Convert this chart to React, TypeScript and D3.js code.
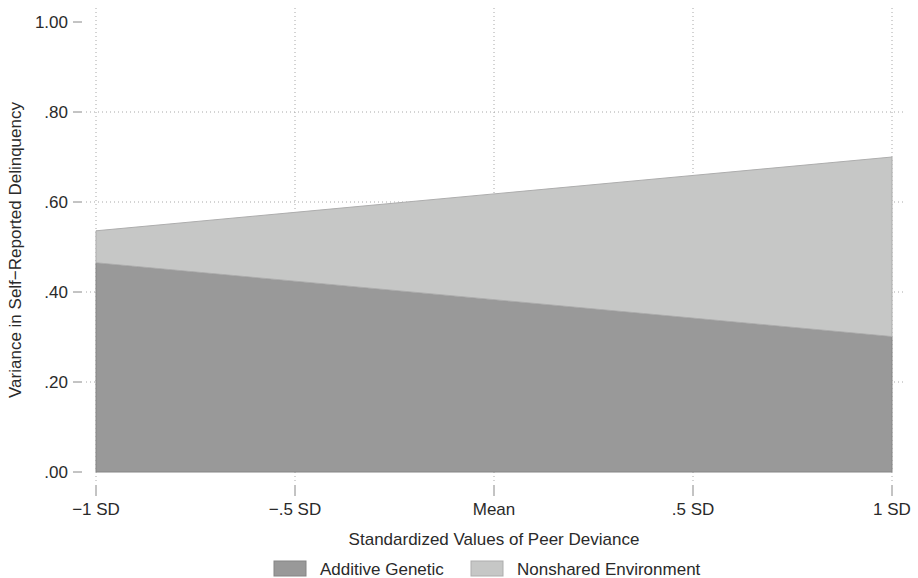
import React, { useRef, useEffect } from 'react';
import * as d3 from 'd3';

// x positions in SD units and their labels
const xValues = [-1, -0.5, 0, 0.5, 1];
const xTickLabels = ['\u22121 SD', '\u2212.5 SD', 'Mean', '.5 SD', '1 SD'];

// variance components (stacked)
const additiveGenetic = [0.465, 0.424, 0.383, 0.342, 0.301];
const nonsharedEnvironment = [0.071, 0.153, 0.235, 0.317, 0.399];

const yTicks = [0, 0.2, 0.4, 0.6, 0.8, 1.0];
const yTickLabels = ['.00', '.20', '.40', '.60', '.80', '1.00'];

const seriesNames = ['Additive Genetic', 'Nonshared Environment'];
const seriesColors = ['#999999', '#c6c7c6'];
const seriesStroke = ['#858585', '#adadad'];

export default function App() {
  const ref = useRef<SVGSVGElement | null>(null);

  useEffect(() => {
    const svg = d3.select(ref.current);
    svg.selectAll('*').remove();

    const font = 'Liberation Sans, Arial, Helvetica, sans-serif';
    const fs = 17;
    const txt = '#2a2a2a';
    const x = d3.scaleLinear().domain([-1, 1]).range([96, 892]);
    const y = d3.scaleLinear().domain([0, 1]).range([472, 22]);

    const rows = xValues.map((v, i) => ({
      x: v,
      a: additiveGenetic[i],
      n: nonsharedEnvironment[i],
    }));
    const stack = d3.stack<any>().keys(['a', 'n'])(rows);

    // gridlines
    const grid = svg.append('g').attr('stroke', '#a8a8a8').attr('stroke-dasharray', '1,3');
    xValues.forEach(v => {
      grid.append('line')
        .attr('x1', x(v)).attr('x2', x(v))
        .attr('y1', 8).attr('y2', 484);
    });
    yTicks.filter(t => t > 0 && t < 1).forEach(t => {
      grid.append('line')
        .attr('x1', 86).attr('x2', 906)
        .attr('y1', y(t)).attr('y2', y(t));
    });

    // areas
    const area = d3.area<any>()
      .x(d => x(d.data.x))
      .y0(d => y(d[0]))
      .y1(d => y(d[1]));

    svg.append('g')
      .selectAll('path')
      .data(stack)
      .enter()
      .append('path')
      .attr('d', area as any)
      .attr('fill', (d, i) => seriesColors[i])
      .attr('stroke', (d, i) => seriesStroke[i])
      .attr('stroke-width', 1);

    // y axis ticks and labels
    const yAxis = svg.append('g');
    yTicks.forEach((t, i) => {
      yAxis.append('line')
        .attr('x1', 73).attr('x2', 82)
        .attr('y1', y(t)).attr('y2', y(t))
        .attr('stroke', '#888');
      yAxis.append('text')
        .attr('x', 68).attr('y', y(t))
        .attr('dy', '0.35em')
        .attr('text-anchor', 'end')
        .attr('font-family', font)
        .attr('font-size', fs)
        .attr('fill', txt)
        .text(yTickLabels[i]);
    });

    // x axis ticks and labels
    const xAxis = svg.append('g');
    xValues.forEach((v, i) => {
      xAxis.append('line')
        .attr('x1', x(v)).attr('x2', x(v))
        .attr('y1', 485).attr('y2', 496)
        .attr('stroke', '#888');
      xAxis.append('text')
        .attr('x', x(v)).attr('y', 515)
        .attr('text-anchor', 'middle')
        .attr('font-family', font)
        .attr('font-size', fs)
        .attr('fill', txt)
        .text(xTickLabels[i]);
    });

    // axis titles
    svg.append('text')
      .attr('x', 494).attr('y', 545)
      .attr('text-anchor', 'middle')
      .attr('font-family', font)
      .attr('font-size', fs)
      .attr('fill', txt)
      .text('Standardized Values of Peer Deviance');

    svg.append('text')
      .attr('transform', 'translate(21,250) rotate(-90)')
      .attr('text-anchor', 'middle')
      .attr('font-family', font)
      .attr('font-size', fs)
      .attr('fill', txt)
      .text('Variance in Self\u2212Reported Delinquency');

    // legend
    const legendX = [274, 471];
    const legend = svg.append('g');
    seriesNames.forEach((name, i) => {
      legend.append('rect')
        .attr('x', legendX[i]).attr('y', 561)
        .attr('width', 32).attr('height', 15)
        .attr('fill', seriesColors[i])
        .attr('stroke', seriesStroke[i]);
      legend.append('text')
        .attr('x', legendX[i] + 46).attr('y', 575)
        .attr('font-family', font)
        .attr('font-size', fs)
        .attr('fill', txt)
        .text(name);
    });
  }, []);

  return (
    <svg
      ref={ref}
      width={918}
      height={578}
      style={{ position: 'absolute', left: 0, top: 0, background: '#fff' }}
    />
  );
}
